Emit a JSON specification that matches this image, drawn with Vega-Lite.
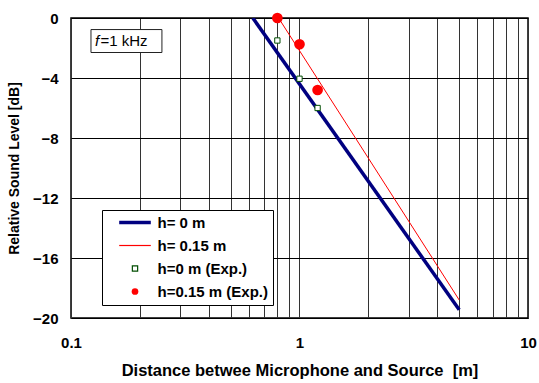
{
  "$schema": "https://vega.github.io/schema/vega-lite/v6.json",
  "width": 457,
  "height": 300,
  "autosize": "none",
  "padding": {"left": 71, "top": 18, "right": 11, "bottom": 65},
  "background": "white",
  "config": {
    "font": "Liberation Sans",
    "view": {"stroke": "black", "strokeWidth": 1.5}
  },
  "datasets": {
    "lines": [
      {"x": 0.625, "y": 0, "series": "h= 0 m"},
      {"x": 5, "y": -19.45, "series": "h= 0 m"},
      {"x": 0.81, "y": 0, "series": "h= 0.15 m"},
      {"x": 5, "y": -18.8, "series": "h= 0.15 m"}
    ],
    "points": [
      {"x": 0.8, "y": -1.5, "series": "h=0 m (Exp.)"},
      {"x": 1.0, "y": -4.05, "series": "h=0 m (Exp.)"},
      {"x": 1.2, "y": -6.0, "series": "h=0 m (Exp.)"},
      {"x": 0.8, "y": 0, "series": "h=0.15 m (Exp.)"},
      {"x": 1.0, "y": -1.75, "series": "h=0.15 m (Exp.)"},
      {"x": 1.2, "y": -4.8, "series": "h=0.15 m (Exp.)"}
    ],
    "box": [
      {"x1": 0.1223, "x2": 0.25, "y1": -0.77, "y2": -2.3}
    ],
    "note": [
      {"x": 0.1274, "y": -1.55, "t1": "f", "x2": 0.1345, "t2": "=1 kHz"}
    ]
  },
  "layer": [
    {
      "data": {"name": "lines"},
      "mark": {"type": "line", "clip": true},
      "encoding": {
        "x": {
          "field": "x", "type": "quantitative",
          "scale": {"type": "log", "domain": [0.1, 10], "nice": false},
          "axis": {
            "values": [0.1, 0.2, 0.3, 0.4, 0.5, 0.6, 0.7, 0.8, 0.9, 1, 2, 3, 4, 5, 6, 7, 8, 9, 10],
            "labelExpr": "datum.value == 0.1 ? '0.1' : datum.value == 1 ? '1' : datum.value == 10 ? '10' : ''",
            "grid": true, "gridColor": "#333333", "gridWidth": 1, "gridOpacity": 1,
            "ticks": false, "domain": false,
            "labelFlush": false, "labelOverlap": false,
            "labelFont": "Liberation Sans", "labelFontSize": 15, "labelFontWeight": "bold", "labelColor": "black",
            "labelPadding": 17,
            "title": "Distance betwee Microphone and Source\u00a0 [m]",
            "titleFont": "Liberation Sans", "titleFontSize": 16.5, "titleFontWeight": "bold", "titleColor": "black",
            "titlePadding": 12
          }
        },
        "y": {
          "field": "y", "type": "quantitative",
          "scale": {"domain": [-20, 0], "nice": false, "zero": false},
          "axis": {
            "values": [-20, -16, -12, -8, -4, 0],
            "grid": true, "gridColor": "black", "gridWidth": 1, "gridOpacity": 1,
            "ticks": false, "domain": false,
            "labelFont": "Liberation Sans", "labelFontSize": 15, "labelFontWeight": "bold", "labelColor": "black",
            "labelPadding": 13,
            "title": "Relative Sound Level [dB]",
            "titleFont": "Liberation Sans", "titleFontSize": 14, "titleFontWeight": "bold", "titleColor": "black",
            "titlePadding": 11
          }
        },
        "detail": {"field": "series"},
        "stroke": {
          "field": "series", "type": "nominal",
          "scale": {"type": "ordinal", "domain": ["h= 0 m", "h= 0.15 m", "h=0 m (Exp.)", "h=0.15 m (Exp.)"], "range": ["#000080", "#ff0000", "#004d00", "#ff0000"]},
          "legend": {
            "title": null, "orient": "none", "legendX": 31, "legendY": 192,
            "direction": "vertical",
            "fillColor": "white", "strokeColor": "black", "padding": 5,
            "symbolSize": 40,
            "symbolOffset": 20.5, "labelOffset": 15, "rowPadding": 7,
            "labelFont": "Liberation Sans", "labelFontSize": 15, "labelFontWeight": "bold", "labelColor": "black",
            "labelLimit": 300,
            "labelExpr": "datum.label + '\u00a0\u00a0'",
            "encode": {
              "symbols": {
                "update": {
                  "stroke": {"signal": "datum.value == 'h= 0 m' ? '#000080' : datum.value == 'h=0 m (Exp.)' ? '#004d00' : '#ff0000'"},
                  "strokeWidth": {"signal": "datum.value == 'h= 0 m' ? 3.5 : datum.value == 'h=0.15 m (Exp.)' ? 0 : 1.2"},
                  "opacity": {"value": 1},
                  "strokeOpacity": {"value": 1},
                  "fillOpacity": {"value": 1}
                }
              },
              "labels": {
                "update": {
                  "fontWeight": {"value": "bold"},
                  "fill": {"value": "black"},
                  "opacity": {"value": 1}
                }
              }
            }
          }
        },
        "strokeWidth": {
          "field": "series", "type": "nominal",
          "scale": {"type": "ordinal", "domain": ["h= 0 m", "h= 0.15 m", "h=0 m (Exp.)", "h=0.15 m (Exp.)"], "range": [3.5, 1, 1, 0]},
          "legend": null
        }
      }
    },
    {
      "data": {"name": "points"},
      "mark": {"type": "point", "opacity": 1, "fillOpacity": 1},
      "encoding": {
        "x": {"field": "x", "type": "quantitative"},
        "y": {"field": "y", "type": "quantitative"},
        "stroke": {"field": "series", "type": "nominal"},
        "strokeWidth": {"field": "series", "type": "nominal", "legend": null},
        "fill": {
          "field": "series", "type": "nominal",
          "scale": {"type": "ordinal", "domain": ["h= 0 m", "h= 0.15 m", "h=0 m (Exp.)", "h=0.15 m (Exp.)"], "range": ["transparent", "transparent", "white", "#ff0000"]},
          "legend": null
        },
        "shape": {
          "field": "series", "type": "nominal",
          "scale": {"type": "ordinal", "domain": ["h= 0 m", "h= 0.15 m", "h=0 m (Exp.)", "h=0.15 m (Exp.)"], "range": ["M-5,0H5", "M-5,0L5,0", "square", "circle"]},
          "legend": null
        },
        "size": {
          "field": "series", "type": "nominal",
          "scale": {"type": "ordinal", "domain": ["h= 0 m", "h= 0.15 m", "h=0 m (Exp.)", "h=0.15 m (Exp.)"], "range": [40, 40, 28, 45]},
          "legend": null
        }
      }
    },
    {
      "data": {"name": "box"},
      "mark": {"type": "rect", "fill": "white", "stroke": "#222222", "strokeWidth": 1},
      "encoding": {
        "x": {"field": "x1", "type": "quantitative"},
        "x2": {"field": "x2"},
        "y": {"field": "y1", "type": "quantitative"},
        "y2": {"field": "y2"}
      }
    },
    {
      "data": {"name": "note"},
      "mark": {"type": "text", "align": "left", "baseline": "middle", "font": "Liberation Sans", "fontSize": 15, "fontStyle": "italic", "color": "black"},
      "encoding": {
        "x": {"field": "x", "type": "quantitative"},
        "y": {"field": "y", "type": "quantitative"},
        "text": {"field": "t1"}
      }
    },
    {
      "data": {"name": "note"},
      "mark": {"type": "text", "align": "left", "baseline": "middle", "font": "Liberation Sans", "fontSize": 15, "color": "black"},
      "encoding": {
        "x": {"field": "x2", "type": "quantitative"},
        "y": {"field": "y", "type": "quantitative"},
        "text": {"field": "t2"}
      }
    }
  ]
}
